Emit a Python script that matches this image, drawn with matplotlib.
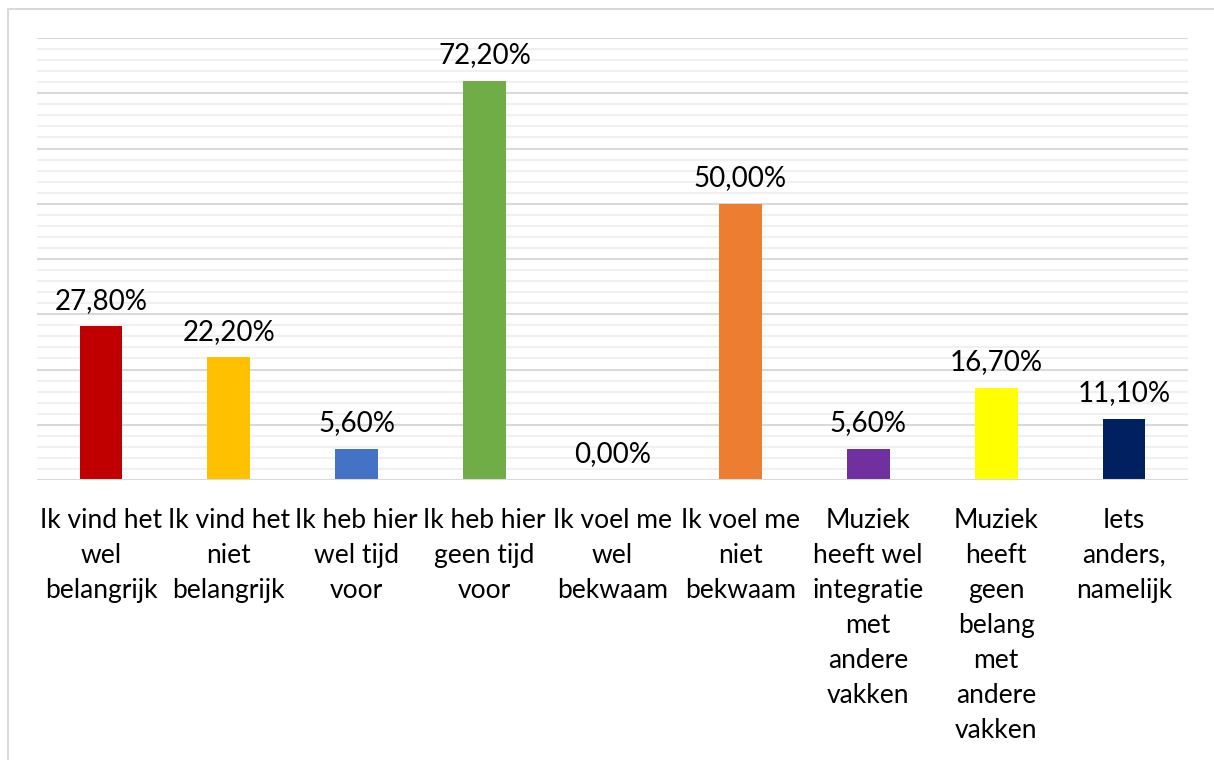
import numpy as np
import matplotlib
matplotlib.use('Agg')
import matplotlib.pyplot as plt
from matplotlib.patches import Rectangle

plt.rcParams['font.family'] = ['Lato', 'DejaVu Sans']

categories = ['Ik vind het\nwel\nbelangrijk', 'Ik vind het\nniet\nbelangrijk',
              'Ik heb hier\nwel tijd\nvoor', 'Ik heb hier\ngeen tijd\nvoor',
              'Ik voel me\nwel\nbekwaam', 'Ik voel me\nniet\nbekwaam',
              'Muziek\nheeft wel\nintegratie\nmet\nandere\nvakken',
              'Muziek\nheeft\ngeen\nbelang\nmet\nandere\nvakken',
              'Iets\nanders,\nnamelijk']
values = [27.8, 22.2, 5.6, 72.2, 0.0, 50.0, 5.6, 16.7, 11.1]
labels = ['27,80%', '22,20%', '5,60%', '72,20%', '0,00%', '50,00%', '5,60%', '16,70%', '11,10%']
colors = ['#C00000', '#FFC000', '#4472C4', '#70AD47', '#A5A5A5', '#ED7D31', '#7030A0', '#FFFF00', '#002060']

fig = plt.figure(figsize=[12.14, 7.6], dpi=100)
ax = fig.add_axes([0.0305, 0.3684, 0.948, 0.5816])

#Gridlines
for y in np.arange(2, 80.1, 2):
   if y % 10 == 0:
      ax.axhline(y, color='#d9d9d9', linewidth=1.5, zorder=0)
   else:
      ax.axhline(y, color='#f0f0f0', linewidth=1.5, zorder=0)
ax.axhline(0, color='#d9d9d9', linewidth=1.5, zorder=3)

x = np.arange(len(values))
ax.bar(x, values, width=0.335, color=colors, zorder=2)
for i, v in enumerate(values):
   ax.text(x[i], v + 2.3, labels[i], ha='center', va='bottom', fontsize=20, color='#000000')

ax.set_xlim(-0.5, len(values) - 0.5)
ax.set_ylim(0, 80)
ax.set_yticks([])
ax.set_xticks(x)
ax.set_xticklabels(categories, fontsize=19, linespacing=1.5, ha='center', va='top')
ax.tick_params(axis='x', length=0, pad=20)
for s in ax.spines.values():
   s.set_visible(False)

#Outer chart border (cut off at right and bottom)
fig.patches.append(Rectangle((8 / 1214, -0.05), 1.2, 1 - 9 / 760 + 0.05, transform=fig.transFigure,
                             fill=False, edgecolor='#d9d9d9', linewidth=1.5))

plt.savefig('out.png', dpi=100)
plt.close()
